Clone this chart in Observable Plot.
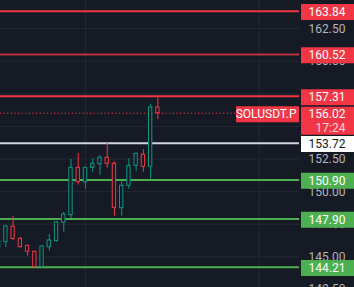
<!DOCTYPE html>
<html>
<head>
<meta charset="utf-8">
<script src="https://cdn.jsdelivr.net/npm/d3@7"></script>
<script src="https://cdn.jsdelivr.net/npm/@observablehq/plot@0.6"></script>
<style>
  html, body { margin: 0; padding: 0; background: #161a25; overflow: hidden; }
  #chart svg { display: block; }
</style>
</head>
<body>
<div id="chart"></div>
<script>
// SOL perpetual, hollow candles with key support / resistance levels
const symbol = "SOLUSDT.P";
const lastPrice = 156.02;
const countdown = "17:24";

const candleOpen  = [145.64, 146.13, 147.31, 146.39, 145.85, 145.39, 144.21, 145.74, 146.20, 147.61, 148.20, 151.83, 150.73, 151.83, 152.11, 152.60, 152.14, 148.73, 150.45, 151.98, 152.83, 151.91, 156.46];
const candleHigh  = [146.35, 147.38, 148.10, 146.49, 145.88, 145.42, 145.87, 146.72, 147.71, 148.40, 152.47, 152.93, 151.86, 152.52, 152.77, 153.70, 152.29, 150.76, 152.52, 152.95, 153.23, 156.71, 157.31];
const candleLow   = [145.50, 145.72, 146.26, 145.68, 145.05, 144.21, 144.21, 145.44, 146.14, 146.89, 147.94, 150.50, 150.19, 151.49, 151.26, 151.80, 148.12, 148.12, 150.19, 151.57, 151.49, 150.96, 155.51];
const candleClose = [146.26, 147.33, 146.36, 145.74, 145.39, 144.21, 145.80, 146.26, 147.64, 148.25, 151.83, 150.73, 151.83, 152.14, 152.60, 152.14, 148.76, 150.45, 151.98, 152.90, 151.91, 156.46, 156.02];

const levelPrices = [163.84, 160.52, 157.31, 153.72, 150.90, 147.90, 144.21];
const levelKinds  = ["resistance", "resistance-minor", "resistance", "pivot", "support", "support", "support"];

// grid every 2.50; the price scale skips labels sitting fully under a tag
const priceTicks = [162.5, 160, 157.5, 155, 152.5, 150, 147.5, 145, 142.5];
const priceLabels = [162.5, 160, 152.5, 150, 147.5, 145, 142.5];
const sessionBreaks = [12, 36];

// palette
const BG = "#161a25";
const GRID = "#252936";
const UP = "#089981";
const DOWN = "#f23645";
const AXIS_TEXT = "#b2b5be";
const lineColor = {resistance: "#f23645", "resistance-minor": "#b8323e", pivot: "#d1d4dc", support: "#4caf50"};
const boxColor  = {resistance: "#f23645", "resistance-minor": "#f23645", pivot: "#ffffff", support: "#4caf50"};
const boxText   = {resistance: "#ffffff", "resistance-minor": "#ffffff", pivot: "#131722", support: "#ffffff"};

const candles = candleOpen.map((o, i) => ({
  i, open: o, high: candleHigh[i], low: candleLow[i], close: candleClose[i],
  up: candleClose[i] >= o
}));
const levels = levelPrices.map((price, k) => ({price, kind: levelKinds[k]}));

const W = 354, H = 287, AXIS_W = 55;
const PLOT_W = W - AXIS_W;
const FONT = "Roboto, 'Noto Sans', sans-serif";

const chart = Plot.plot({
  width: W,
  height: H,
  marginLeft: 0,
  marginRight: AXIS_W,
  marginTop: 0,
  marginBottom: 0,
  style: {background: BG, fontFamily: FONT, overflow: "hidden"},
  x: {type: "linear", domain: [0.262, 41.56], axis: null},
  y: {domain: [142.65, 164.66], axis: null},
  marks: [
    Plot.gridY(priceTicks, {stroke: GRID, strokeOpacity: 1}),
    Plot.gridX(sessionBreaks, {stroke: GRID, strokeOpacity: 1}),
    // price scale labels
    Plot.text(priceLabels, {
      y: d => d, frameAnchor: "right", dx: 46, textAnchor: "end",
      text: d => d.toFixed(2), fill: AXIS_TEXT, fontSize: 12
    }),
    // horizontal levels
    Plot.ruleY(levels, {y: "price", stroke: d => lineColor[d.kind], strokeWidth: 2}),
    // last price dotted line
    Plot.ruleY([lastPrice], {stroke: DOWN, strokeDasharray: "1.2,2.4", strokeWidth: 1, insetRight: 64}),
    // candles: wicks then hollow bodies
    Plot.ruleX(candles, {x: "i", y1: "low", y2: "high", stroke: d => d.up ? UP : DOWN, strokeWidth: 1}),
    Plot.rect(candles, {
      x1: d => d.i - 0.23, x2: d => d.i + 0.23, y1: "open", y2: "close",
      fill: BG, stroke: d => d.up ? UP : DOWN, strokeWidth: 1
    }),
    // symbol tag and last price tag
    Plot.ruleY([lastPrice], {stroke: DOWN, strokeWidth: 16, dy: 1, insetLeft: 236, insetRight: 0}),
    Plot.text([symbol], {y: () => lastPrice, frameAnchor: "right", dx: -3, dy: 1, textAnchor: "end", text: d => d, fill: "#ffffff", fontSize: 12}),
    Plot.ruleY([lastPrice], {stroke: DOWN, strokeWidth: 28, dy: 7.5, insetLeft: PLOT_W + 2, insetRight: -AXIS_W}),
    Plot.text([lastPrice], {y: d => d, frameAnchor: "right", dx: 46, dy: 1, textAnchor: "end", text: d => d.toFixed(2), fill: "#ffffff", fontSize: 12}),
    Plot.text([countdown], {y: () => lastPrice, frameAnchor: "right", dx: 46, dy: 15, textAnchor: "end", text: d => d, fill: "#ffffff", fillOpacity: 0.8, fontSize: 12}),
    // level tags on the price scale
    Plot.ruleY(levels, {y: "price", stroke: d => boxColor[d.kind], strokeWidth: 16, dy: 0.8, insetLeft: PLOT_W + 2, insetRight: -AXIS_W}),
    Plot.text(levels, {
      y: "price", frameAnchor: "right", dx: 46, dy: 1, textAnchor: "end",
      text: d => d.price.toFixed(2), fill: d => boxText[d.kind], fontSize: 12
    })
  ]
});

document.getElementById("chart").append(chart);
</script>
</body>
</html>
